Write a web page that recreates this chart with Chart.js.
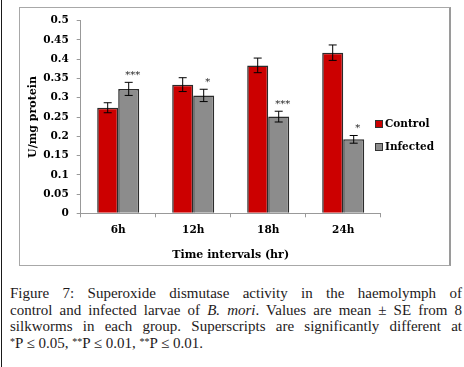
<!DOCTYPE html>
<html lang="en">
<head>
<meta charset="UTF-8">
<title>Superoxide dismutase activity</title>
<script src="https://cdn.jsdelivr.net/npm/chart.js"></script>
<style>
    body {
        margin: 0;
        width: 464px;
        height: 367px;
        background: #ffffff;
        position: relative;
        overflow: hidden;
    }

    #leftRule {
        position: absolute;
        left: 1px;
        top: 0;
        width: 1px;
        height: 367px;
        background: #1a1a1a;
    }

    #frame {
        position: absolute;
        left: 19px;
        top: 7px;
        width: 429px;
        height: 257px;
        border: 1px solid #a8a8a8;
        border-right: 2px solid #9a9a9a;
    }

    #chartCanvas {
        position: absolute;
        left: 0;
        top: 0;
    }

    .legend-item {
        position: absolute;
        left: 375px;
        font: bold 10.5px "DejaVu Serif", serif;
        color: #000;
        line-height: 12px;
        white-space: nowrap;
    }

    .legend-item span {
        display: inline-block;
        width: 6px;
        height: 6px;
        border: 1px solid #333;
        margin-right: 2px;
        vertical-align: -1px;
    }

    #caption {
        position: absolute;
        left: 10px;
        top: 285px;
        width: 452px;
        font: 15px "Liberation Serif", serif;
        color: #1e1a1b;
        line-height: 16.7px;
    }

    #caption div {
        text-align: justify;
        text-align-last: justify;
        white-space: nowrap;
    }

    #caption div.last {
        text-align-last: left;
    }

    .star {
        font-size: 10px;
        position: relative;
        top: -3px;
    }
</style>
</head>
<body>
<div id="leftRule"></div>
<div id="frame"></div>
<canvas id="chartCanvas" width="464" height="267"></canvas>
<div class="legend-item" style="top:117px"><span style="background:#cc0000"></span>Control</div>
<div class="legend-item" style="top:140px"><span style="background:#8c8c8c"></span>Infected</div>

<div id="caption">
    <div>Figure 7: Superoxide dismutase activity in the haemolymph of</div>
    <div>control and infected larvae of <i>B. mori</i>. Values are mean ± SE from 8</div>
    <div>silkworms in each group. Superscripts are significantly different at</div>
    <div class="last"><span class="star">*</span>P ≤ 0.05, <span class="star">**</span>P ≤ 0.01, <span class="star">**</span>P ≤ 0.01.</div>
</div>

<script>
    const timeLabels = ['6h', '12h', '18h', '24h'];
    const controlValues = [0.274, 0.334, 0.384, 0.417];
    const controlErrors = [0.013, 0.018, 0.019, 0.020];
    const infectedValues = [0.323, 0.306, 0.251, 0.192];
    const infectedErrors = [0.017, 0.016, 0.014, 0.010];
    const infectedMarks = ['***', '*', '***', '*'];
    const yTicks = [0, 0.05, 0.1, 0.15, 0.2, 0.25, 0.3, 0.35, 0.4, 0.45, 0.5];

    const axisFont = { family: 'DejaVu Serif', weight: 'bold', size: 10.5 };
    const titleFont = { family: 'DejaVu Serif', weight: 'bold', size: 11 };

    // error bars and significance stars
    const errorBarPlugin = {
        id: 'errorBars',
        afterDatasetsDraw(chart) {
            const ctx = chart.ctx;
            const yScale = chart.scales.y;
            chart.data.datasets.forEach((ds, di) => {
                const meta = chart.getDatasetMeta(di);
                meta.data.forEach((bar, i) => {
                    const v = ds.data[i];
                    const e = ds.errors[i];
                    const yHi = yScale.getPixelForValue(v + e);
                    const yLo = yScale.getPixelForValue(v - e);
                    ctx.save();
                    ctx.strokeStyle = '#000';
                    ctx.lineWidth = 1;
                    ctx.beginPath();
                    ctx.moveTo(bar.x, yHi);
                    ctx.lineTo(bar.x, yLo);
                    ctx.moveTo(bar.x - 4, yHi);
                    ctx.lineTo(bar.x + 4, yHi);
                    ctx.moveTo(bar.x - 4, yLo);
                    ctx.lineTo(bar.x + 4, yLo);
                    ctx.stroke();
                    if (ds.marks) {
                        ctx.fillStyle = '#222';
                        ctx.font = '10px "DejaVu Serif"';
                        ctx.textAlign = 'center';
                        ctx.textBaseline = 'middle';
                        ctx.fillText(ds.marks[i], bar.x + 4, yHi - 7);
                    }
                    ctx.restore();
                });
            });
        }
    };

    new Chart(document.getElementById('chartCanvas'), {
        type: 'bar',
        data: {
            labels: timeLabels,
            datasets: [
                {
                    label: 'Control',
                    data: controlValues,
                    errors: controlErrors,
                    backgroundColor: '#cc0000',
                    borderColor: '#2b2b2b',
                    borderWidth: 1.5,
                    categoryPercentage: 0.56,
                    barPercentage: 1
                },
                {
                    label: 'Infected',
                    data: infectedValues,
                    errors: infectedErrors,
                    marks: infectedMarks,
                    backgroundColor: '#8c8c8c',
                    borderColor: '#2b2b2b',
                    borderWidth: 1.5,
                    categoryPercentage: 0.56,
                    barPercentage: 1
                }
            ]
        },
        options: {
            responsive: false,
            animation: false,
            devicePixelRatio: 1,
            layout: {
                padding: { left: 0, top: 20.7, right: 83.3, bottom: 0 }
            },
            plugins: {
                legend: { display: false },
                tooltip: { enabled: false }
            },
            scales: {
                x: {
                    grid: {
                        offset: true,
                        drawOnChartArea: false,
                        tickLength: 4,
                        color: '#999'
                    },
                    border: { color: '#999' },
                    ticks: { color: '#000', font: axisFont, padding: 7 },
                    title: {
                        display: true,
                        text: 'Time intervals (hr)',
                        color: '#000',
                        font: titleFont,
                        padding: { top: 0, bottom: 5.4 }
                    },
                    afterFit(scale) { scale.height = 53.7; }
                },
                y: {
                    min: 0,
                    max: 0.5,
                    grid: {
                        drawOnChartArea: false,
                        tickLength: 4,
                        color: '#999'
                    },
                    border: { color: '#999' },
                    afterBuildTicks(scale) {
                        scale.ticks = yTicks.map(v => ({ value: v }));
                    },
                    ticks: {
                        color: '#000',
                        font: axisFont,
                        padding: 8,
                        callback: v => String(+v.toFixed(2))
                    },
                    title: {
                        display: true,
                        text: 'U/mg protein',
                        color: '#000',
                        font: titleFont,
                        padding: { top: 26.4, bottom: 0 }
                    },
                    afterFit(scale) { scale.width = 80.7; }
                }
            }
        },
        plugins: [errorBarPlugin]
    });
</script>
</body>
</html>
